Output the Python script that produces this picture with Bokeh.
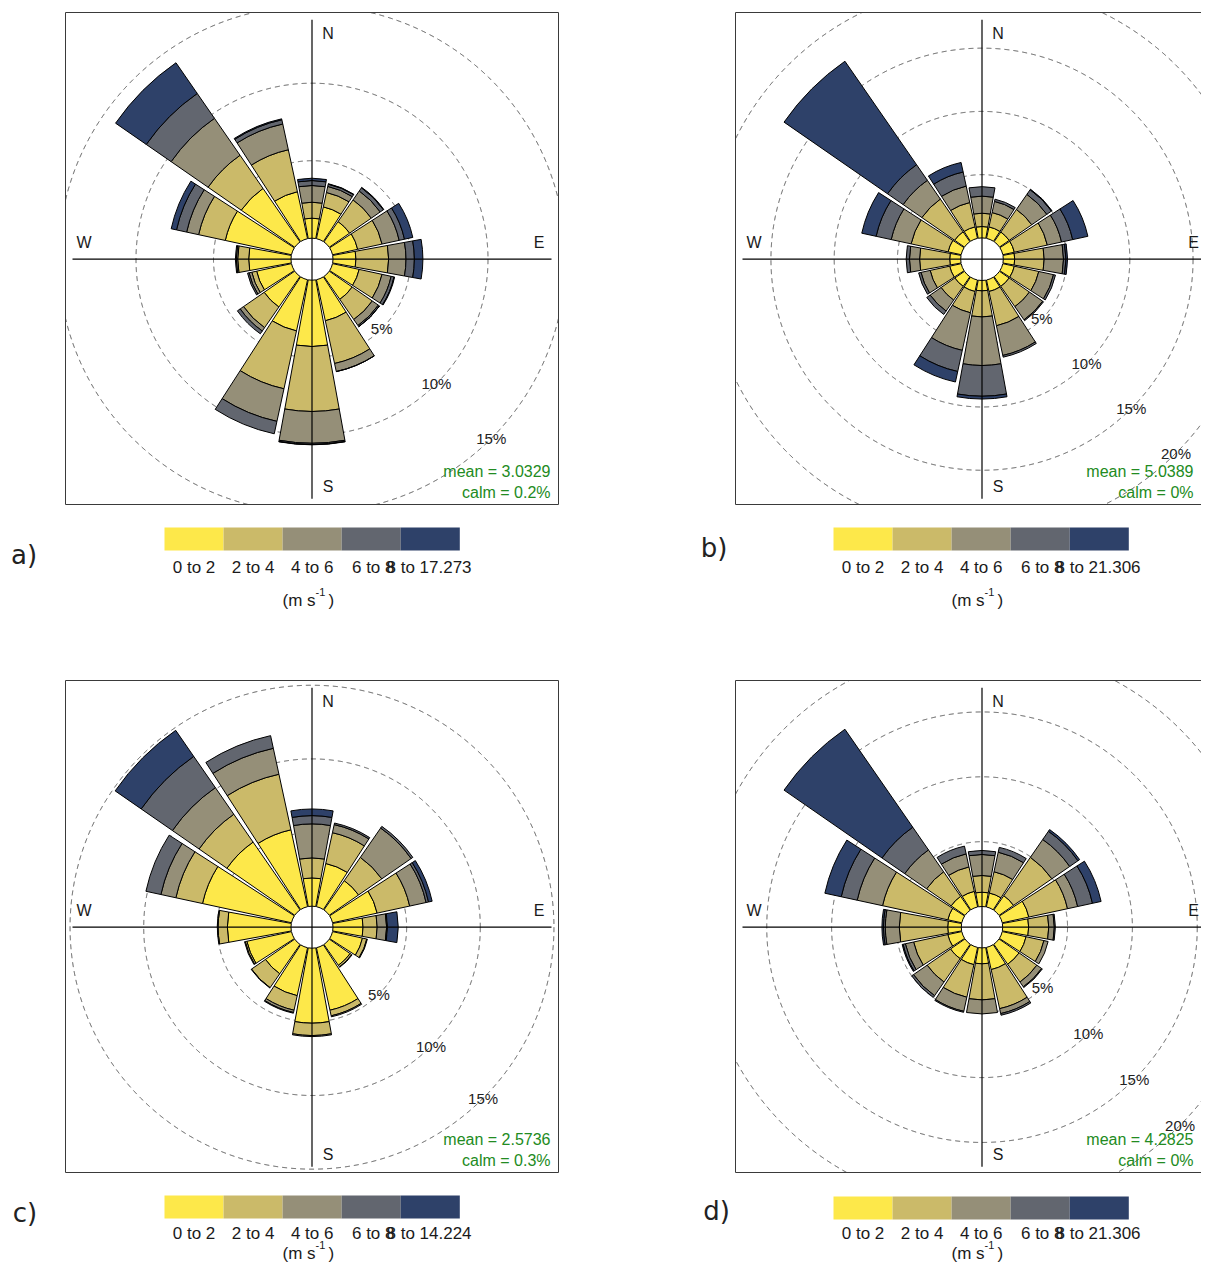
import numpy as np
from bokeh.plotting import figure
from bokeh.models import Range1d, ColumnDataSource
from bokeh.embed import file_html
from bokeh.resources import INLINE
from bokeh.core.properties import value

# ---------------- data ----------------
directions = [0.0, 22.5, 45.0, 67.5, 90.0, 112.5, 135.0, 157.5,
              180.0, 202.5, 225.0, 247.5, 270.0, 292.5, 315.0, 337.5]
bin_colors = ["#FDE84A", "#CBBA69", "#958F78", "#62666F", "#2E4169"]

# frequency (%) per direction (N, NNE, ... NNW) for each speed bin
a_0_2 = [1.29, 2.10, 1.60, 1.66, 1.48, 1.76, 1.80, 2.71, 4.28, 3.38, 2.40, 2.30, 2.73, 4.37, 4.20, 3.10]
a_2_4 = [1.03, 0.95, 1.70, 1.61, 2.11, 1.51, 1.58, 2.82, 4.19, 3.82, 1.62, 0.32, 0.71, 1.76, 2.60, 2.77]
a_4_6 = [1.08, 0.40, 0.70, 1.13, 1.12, 0.60, 0.47, 0.53, 2.05, 2.15, 0.26, 0.18, 0.09, 0.79, 2.90, 1.70]
a_6_8 = [0.32, 0.15, 0.25, 0.35, 0.54, 0.19, 0.09, 0.01, 0.08, 0.82, 0.22, 0.10, 0.06, 0.67, 1.95, 0.28]
a_8_up = [0.15, 0.03, 0.03, 0.55, 0.55, 0.04, 0.01, 0.00, 0.02, 0.00, 0.00, 0.00, 0.00, 0.35, 2.41, 0.06]

b_0_2 = [0.90, 0.93, 0.93, 0.93, 0.90, 0.93, 0.93, 0.93, 0.82, 0.93, 0.93, 0.93, 0.87, 1.06, 0.95, 0.93]
b_2_4 = [1.05, 1.16, 2.17, 2.67, 2.33, 1.98, 1.95, 2.77, 2.06, 1.72, 1.32, 1.58, 2.38, 2.99, 3.15, 1.97]
b_4_6 = [1.35, 0.90, 1.45, 1.15, 1.53, 1.19, 1.27, 2.40, 3.84, 3.04, 1.05, 0.74, 0.80, 1.61, 1.80, 1.33]
b_6_8 = [0.75, 0.18, 0.45, 0.90, 0.19, 0.16, 0.08, 0.14, 2.43, 1.71, 0.33, 0.19, 0.26, 1.22, 1.50, 1.14]
b_8_up = [0.00, 0.00, 0.05, 1.23, 0.13, 0.00, 0.00, 0.00, 0.22, 0.85, 0.00, 0.00, 0.00, 1.16, 9.95, 0.77]

c_0_2 = [1.92, 3.00, 2.42, 3.10, 2.04, 2.08, 1.72, 4.34, 5.09, 3.33, 2.42, 3.10, 4.32, 6.18, 5.60, 5.34]
c_2_4 = [1.36, 2.14, 1.92, 2.26, 0.96, 0.30, 0.13, 0.39, 0.84, 1.01, 1.15, 0.11, 0.63, 1.85, 2.30, 3.86]
c_4_6 = [2.31, 0.56, 2.42, 1.14, 0.64, 0.04, 0.03, 0.07, 0.07, 0.16, 0.03, 0.05, 0.05, 1.04, 2.20, 1.80]
c_6_8 = [0.56, 0.11, 0.14, 0.17, 0.06, 0.00, 0.00, 0.00, 0.00, 0.05, 0.00, 0.00, 0.00, 1.04, 2.58, 0.88]
c_8_up = [0.45, 0.00, 0.00, 0.25, 0.73, 0.00, 0.00, 0.00, 0.00, 0.00, 0.00, 0.00, 0.00, 0.00, 2.15, 0.00]

d_0_2 = [1.10, 1.10, 1.36, 2.10, 2.00, 1.88, 1.88, 1.75, 1.23, 1.36, 1.36, 1.10, 1.05, 1.10, 1.30, 1.23]
d_2_4 = [1.29, 1.68, 3.60, 3.05, 1.55, 1.41, 1.67, 3.08, 2.78, 2.57, 2.19, 2.70, 3.73, 5.15, 2.30, 1.93]
d_4_6 = [1.62, 1.54, 1.67, 0.80, 0.43, 0.33, 0.45, 0.39, 1.08, 1.11, 1.28, 0.65, 1.08, 2.00, 2.05, 1.03]
d_6_8 = [0.31, 0.38, 0.77, 1.17, 0.08, 0.00, 0.06, 0.13, 0.00, 0.08, 0.17, 0.18, 0.14, 1.26, 2.13, 0.61]
d_8_up = [0.00, 0.00, 0.16, 0.68, 0.00, 0.00, 0.00, 0.00, 0.00, 0.00, 0.00, 0.07, 0.12, 1.29, 9.19, 0.00]

a_legend = ["0 to 2", "2 to 4", "4 to 6", "6 to 8", "8 to 17.273"]
b_legend = ["0 to 2", "2 to 4", "4 to 6", "6 to 8", "8 to 21.306"]
c_legend = ["0 to 2", "2 to 4", "4 to 6", "6 to 8", "8 to 14.224"]
d_legend = ["0 to 2", "2 to 4", "4 to 6", "6 to 8", "8 to 21.306"]

a_rings = [5, 10, 15]
b_rings = [5, 10, 15, 20]
c_rings = [5, 10, 15]
d_rings = [5, 10, 15, 20]

a_stats = ["mean = 3.0329", "calm = 0.2%"]
b_stats = ["mean = 5.0389", "calm = 0%"]
c_stats = ["mean = 2.5736", "calm = 0.3%"]
d_stats = ["mean = 4.2825", "calm = 0%"]

panel_tags = ["a)", "b)", "c)", "d)"]
compass_labels = ["N", "E", "S", "W"]
units_main = "(m s"
units_sup = "-1"

# ---------------- layout / style ----------------
W, H = 1201, 1263
FONT = "Liberation Sans"
HALF_W = 10.3  # half angular width of a petal (degrees)

panels = [
    dict(bins=[a_0_2, a_2_4, a_4_6, a_6_8, a_8_up], legend=a_legend, rings=a_rings, stats=a_stats,
         box=(65, 12, 558, 504), hub=21.0, k=15.5, leg=(164, 527), lab_dy=40, unit_dy=73,
         tag=(23.5, 554)),
    dict(bins=[b_0_2, b_2_4, b_4_6, b_6_8, b_8_up], legend=b_legend, rings=b_rings, stats=b_stats,
         box=(735, 12, 1228, 504), hub=21.3, k=12.65, leg=(833, 527), lab_dy=40, unit_dy=73,
         tag=(713.5, 547)),
    dict(bins=[c_0_2, c_2_4, c_4_6, c_6_8, c_8_up], legend=c_legend, rings=c_rings, stats=c_stats,
         box=(65, 680, 558, 1172), hub=21.0, k=14.73, leg=(164, 1195), lab_dy=38, unit_dy=58,
         tag=(24.5, 1212)),
    dict(bins=[d_0_2, d_2_4, d_4_6, d_6_8, d_8_up], legend=d_legend, rings=d_rings, stats=d_stats,
         box=(735, 680, 1228, 1172), hub=20.7, k=12.97, leg=(833, 1196), lab_dy=37, unit_dy=57,
         tag=(716, 1210)),
]

p = figure(width=W, height=H, x_range=Range1d(0, W), y_range=Range1d(-H, 0),
           toolbar_location=None, output_backend="svg", min_border=0,
           x_axis_location=None, y_axis_location=None)
p.grid.visible = False
p.outline_line_color = None
p.background_fill_color = "white"
p.border_fill_color = "white"


def txt(x, y, s, size, color="#1a1a1a", align="center", baseline="middle", font=FONT):
    p.text(x=[x], y=[-y], text=[s], text_align=align, text_baseline=baseline,
           text_font=value(font), text_font_size=value(f"{size}px"), text_color=color)


for i, pn in enumerate(panels):
    x0, y0, x1, y1 = pn["box"]
    cx, cy = (x0 + x1) / 2.0, y0 + 246.7
    hub, k = pn["hub"], pn["k"]
    xr = min(x1, W) - 8  # right edge for right-aligned texts, kept inside the page

    # dashed frequency rings, clipped to the panel box
    t = np.linspace(0, 2 * np.pi, 2881)
    for rv in pn["rings"]:
        r = hub + k * rv
        xs = cx + r * np.cos(t)
        ys = cy + r * np.sin(t)
        inside = (xs >= x0) & (xs <= x1) & (ys >= y0) & (ys <= y1)
        xs = np.where(inside, xs, np.nan)
        ys = np.where(inside, -ys, np.nan)
        p.line(xs, ys, line_color="#505050", line_width=1, line_dash="5 4")

    # stacked petals
    xs_, ys_, inn, out, st, en, col = [], [], [], [], [], [], []
    for d_i, wd in enumerate(directions):
        cum = 0.0
        for b_i, series in enumerate(pn["bins"]):
            f = series[d_i]
            if f <= 0:
                continue
            phi = 90.0 - wd
            xs_.append(cx)
            ys_.append(-cy)
            inn.append(hub + k * cum)
            cum += f
            out.append(hub + k * cum)
            st.append(np.radians(phi - HALF_W))
            en.append(np.radians(phi + HALF_W))
            col.append(bin_colors[b_i])
    src = ColumnDataSource(dict(x=xs_, y=ys_, inner=inn, outer=out, start=st, end=en, color=col))
    p.annular_wedge(x="x", y="y", inner_radius="inner", outer_radius="outer",
                    start_angle="start", end_angle="end", fill_color="color",
                    line_color="black", line_width=1, source=src)

    # cross axes
    L = 239.5
    p.segment(x0=[cx - L, cx], y0=[-cy, -(cy - L)], x1=[cx + L, cx], y1=[-cy, -(cy + L)],
              line_color="black", line_width=1.2)

    # panel box
    p.quad(left=[x0], right=[x1], top=[-y0], bottom=[-y1], fill_color=None,
           line_color="#3a3a3a", line_width=1)

    # compass labels
    offs = [(16, -226), (min(227, W - 8 - cx), -17), (16, 227), (-228, -17)]
    for lab, (dx, dy) in zip(compass_labels, offs):
        txt(cx + dx, cy + dy, lab, 16)

    # ring labels at 135 degrees
    for rv in pn["rings"]:
        r = hub + k * rv
        txt(cx + r * 0.7071, cy + r * 0.7071, f"{rv}%", 15, color="#222222")

    # statistics
    txt(xr, y0 + 458.5, pn["stats"][0], 16, color="#228B22", align="right")
    txt(xr, y0 + 480, pn["stats"][1], 16, color="#228B22", align="right")

    # legend colour bar
    lx, ly = pn["leg"]
    bw = 59.06
    lefts = [lx + j * bw for j in range(5)]
    p.quad(left=lefts, right=[v + bw for v in lefts], top=[-ly] * 5, bottom=[-(ly + 23)] * 5,
           fill_color=bin_colors, line_color=None)
    ty = ly + pn["lab_dy"]
    for j, lab in enumerate(pn["legend"][:3]):
        txt(lefts[j] + bw / 2, ty, lab, 17)
    # the last two labels share the "8", which prints twice and looks bold
    txt(lx + 230, ty, pn["legend"][3], 17, align="right")
    txt(lx + 222, ty, pn["legend"][4], 17, align="left")
    uy = ly + pn["unit_dy"]
    txt(lx + 118, uy, units_main, 17, align="left")
    txt(lx + 151, uy - 9, units_sup, 11, align="left")
    txt(lx + 164, uy, ")", 17, align="left")

    # panel tag
    txt(pn["tag"][0], pn["tag"][1], panel_tags[i], 26, color="#222222", font="DejaVu Sans")

open("out.html", "w").write(file_html(p, INLINE))
